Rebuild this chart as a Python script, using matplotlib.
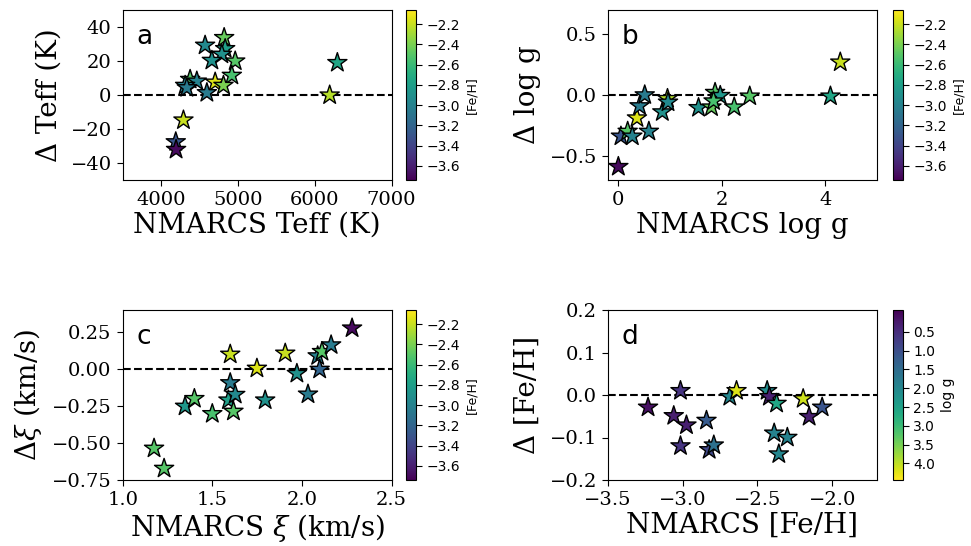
import matplotlib
matplotlib.use("Agg")
import matplotlib.pyplot as plt
import numpy as np

plt.rcParams['mathtext.fontset'] = 'dejavuserif'

# panel a: Teff
teff_x = [4821, 4573, 4834, 4791, 4661, 4965, 4921, 4704, 4812, 4378,
          4465, 4313, 4335, 4596, 4191, 4195, 4291, 6295, 6195]
teff_d = [33.7, 29.2, 27.2, 23.9, 20.3, 19.9, 11.5, 7.5, 5.6, 9.1,
          8.1, 5.6, 4.2, 1.3, -27.6, -32.1, -14.8, 19.0, -0.1]
teff_feh = [-2.45, -2.95, -2.8, -2.9, -2.9, -2.5, -2.55, -2.15, -2.4, -2.5,
            -3.0, -3.0, -3.05, -3.05, -3.3, -3.7, -2.2, -2.75, -2.25]

# panel b: log g
logg_x = [0.0, 0.05, 0.18, 0.27, 0.36, 0.41, 0.51, 0.59, 0.85, 0.95,
          0.96, 1.55, 1.80, 1.87, 1.97, 1.84, 2.24, 2.54, 4.10, 4.29]
logg_d = [-0.59, -0.34, -0.30, -0.34, -0.19, -0.09, 0.0, -0.30, -0.14, -0.03,
          -0.06, -0.105, -0.10, 0.02, -0.005, -0.05, -0.10, -0.01, -0.01, 0.27]
logg_feh = [-3.7, -3.3, -2.5, -3.0, -2.15, -3.05, -3.05, -3.0, -2.9, -2.25,
            -2.95, -2.9, -2.45, -2.5, -2.85, -2.55, -2.55, -2.5, -2.75, -2.2]

# panel c: microturbulence
xi_x = [1.175, 1.231, 1.348, 1.40, 1.50, 1.60, 1.60, 1.59, 1.628, 1.618,
        1.749, 1.795, 1.907, 1.972, 2.034, 2.088, 2.112, 2.099, 2.163, 2.28]
xi_d = [-0.536, -0.672, -0.252, -0.20, -0.302, 0.10, -0.093, -0.21, -0.172, -0.286,
        0.005, -0.21, 0.107, -0.03, -0.17, 0.089, 0.118, -0.002, 0.163, 0.277]
xi_feh = [-2.5, -2.5, -2.85, -2.5, -2.55, -2.2, -3.05, -2.8, -2.95, -2.5,
          -2.15, -2.9, -2.2, -2.9, -3.05, -3.0, -2.5, -3.2, -3.05, -3.7]

# panel d: metallicity
feh_x = [-3.232, -3.015, -3.06, -2.975, -3.015, -2.841, -2.823, -2.792, -2.685, -2.64,
         -2.435, -2.42, -2.372, -2.388, -2.30, -2.357, -2.194, -2.154, -2.067]
feh_d = [-0.029, 0.010, -0.049, -0.071, -0.12, -0.060, -0.129, -0.118, -0.004, 0.010,
         0.010, -0.004, -0.02, -0.09, -0.10, -0.139, -0.009, -0.051, -0.029]
feh_logg = [0.1, 0.6, 0.3, 0.3, 0.6, 1.2, 0.9, 1.6, 2.0, 4.2,
            2.1, 0.3, 2.6, 1.9, 1.9, 2.0, 4.1, 0.3, 1.1]

feh_ticks = [-3.6, -3.4, -3.2, -3.0, -2.8, -2.6, -2.4, -2.2]
logg_ticks = [0.5, 1.0, 1.5, 2.0, 2.5, 3.0, 3.5, 4.0]

serif = 'DejaVu Serif'
sans = 'DejaVu Sans'


def fmt(f, v):
    return (f % v).replace('-', '\u2212')


fig = plt.figure(figsize=(9.71, 5.46), dpi=100)

W, H = 971.0, 546.0
def box(x0, y0, x1, y1):
    return [x0 / W, 1 - y1 / H, (x1 - x0) / W, (y1 - y0) / H]

panels = [
    dict(pos=box(122.7, 10, 391.5, 180), cpos=box(406, 10, 416, 180),
         x=teff_x, y=teff_d, c=teff_feh, vmin=-3.74, vmax=-2.06,
         xlim=(3500, 7000), ylim=(-50, 50), xticks=[4000, 5000, 6000, 7000],
         xfmt='%d', yticks=[-40, -20, 0, 20, 40], yfmt='%d',
         xlabel='NMARCS Teff (K)', ylabel='Δ Teff (K)', tag='a',
         cticks=feh_ticks, clabel='[Fe/H]', invert=False),
    dict(pos=box(608, 10, 877, 180), cpos=box(893, 10, 903, 180),
         x=logg_x, y=logg_d, c=logg_feh, vmin=-3.74, vmax=-2.06,
         xlim=(-0.2, 5.0), ylim=(-0.7, 0.7), xticks=[0, 2, 4], xfmt='%d',
         yticks=[-0.5, 0.0, 0.5], yfmt='%.1f',
         xlabel='NMARCS log g', ylabel='Δ log g', tag='b',
         cticks=feh_ticks, clabel='[Fe/H]', invert=False),
    dict(pos=box(122.7, 310, 391.5, 480), cpos=box(406, 310, 416, 480),
         x=xi_x, y=xi_d, c=xi_feh, vmin=-3.74, vmax=-2.06,
         xlim=(1.0, 2.5), ylim=(-0.75, 0.4), xticks=[1.0, 1.5, 2.0, 2.5],
         xfmt='%.1f', yticks=[-0.75, -0.5, -0.25, 0.0, 0.25], yfmt='%.2f',
         xlabel=r'NMARCS $\xi$ (km/s)', ylabel=r'Δ$\xi$ (km/s)', tag='c',
         cticks=feh_ticks, clabel='[Fe/H]', invert=False),
    dict(pos=box(608, 310, 877, 480), cpos=box(893, 310, 903, 480),
         x=feh_x, y=feh_d, c=feh_logg, vmin=-0.08, vmax=4.44,
         xlim=(-3.5, -1.7), ylim=(-0.2, 0.2), xticks=[-3.5, -3.0, -2.5, -2.0],
         xfmt='%.1f', yticks=[-0.2, -0.1, 0.0, 0.1, 0.2], yfmt='%.1f',
         xlabel='NMARCS [Fe/H]', ylabel='Δ [Fe/H]', tag='d',
         cticks=logg_ticks, clabel='log g', invert=True),
]

for p in panels:
    ax = fig.add_axes(p['pos'])
    sc = ax.scatter(p['x'], p['y'], c=p['c'], cmap='viridis', vmin=p['vmin'],
                    vmax=p['vmax'], marker='*', s=210, edgecolors='k',
                    linewidths=1.0, zorder=3)
    ax.axhline(0, color='k', ls='--', lw=1.5, zorder=2)
    ax.set_xlim(p['xlim'])
    ax.set_ylim(p['ylim'])
    ax.set_xticks(p['xticks'])
    ax.set_yticks(p['yticks'])
    ax.set_xticklabels([fmt(p['xfmt'], v) for v in p['xticks']])
    ax.set_yticklabels([fmt(p['yfmt'], v) for v in p['yticks']])
    for lab in ax.get_xticklabels() + ax.get_yticklabels():
        lab.set_fontfamily(serif)
        lab.set_fontsize(14)
    ax.tick_params(direction='out', length=4.5, pad=3.5)
    ax.set_xlabel(p['xlabel'], fontfamily=serif, fontsize=20, labelpad=2)
    ax.set_ylabel(p['ylabel'], fontfamily=serif, fontsize=20, labelpad=6)
    ax.text(0.05, 0.84, p['tag'], transform=ax.transAxes, fontfamily=sans,
            fontsize=19, va='center')

    cax = fig.add_axes(p['cpos'])
    cb = fig.colorbar(sc, cax=cax, ticks=p['cticks'])
    cb.ax.set_yticklabels([fmt('%.1f', v) for v in p['cticks']])
    cb.ax.tick_params(labelsize=10, length=4)
    cb.set_label(p['clabel'], fontsize=9 if not p['invert'] else 10)
    if p['invert']:
        cb.ax.invert_yaxis()

fig.savefig('out.png', dpi=100)
